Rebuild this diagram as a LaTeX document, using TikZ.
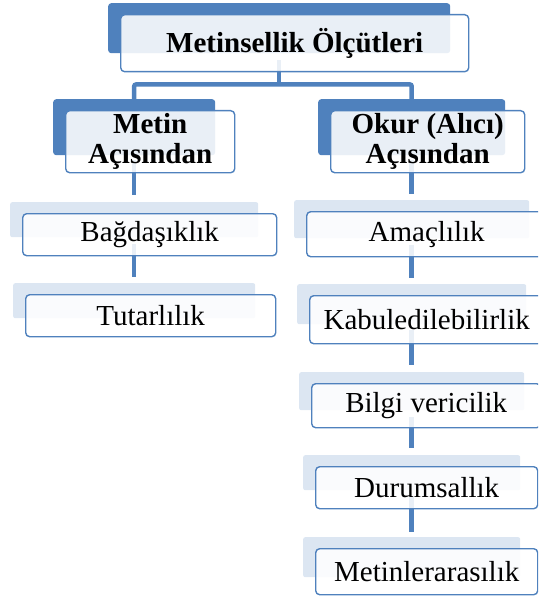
\documentclass[tikz,border=0pt]{standalone}
\usepackage{fontspec}
\setmainfont{Liberation Serif}
\usepackage{tikz}
\usetikzlibrary{positioning}
\definecolor{smartblue}{RGB}{79,129,189}
\definecolor{paleblue}{RGB}{220,230,242}
\tikzset{every picture/.style={/utils/exec={\fontsize{29}{30}\selectfont}}}

\begin{document}
\begin{tikzpicture}[x=1pt, y=-1pt]
  \tikzstyle{darkback} = [rectangle, rounded corners=3pt, fill=smartblue, inner sep=0pt, anchor=north west]
  \tikzstyle{paleback} = [rectangle, rounded corners=2pt, fill=paleblue, inner sep=0pt, anchor=north west]
  \tikzstyle{card} = [rectangle, rounded corners=4pt, draw=smartblue, line width=1.4pt, fill=white, fill opacity=0.88, text opacity=1, inner sep=0pt, align=center]
  \tikzstyle{headcard} = [card, font=\bfseries]

  \tikzstyle{stem} = [draw=smartblue, line width=4.5pt, rounded corners=2pt]

  \useasboundingbox (0,0) rectangle (538,599);
  \clip (0,0) rectangle (538,599);

  % plates behind the cards
  \node (rootb) [darkback, minimum width=342pt, minimum height=50pt] at (108,3) {};
  \node (metinb) [darkback, minimum width=162pt, minimum height=56pt] at (53,99) {};
  \node (okurb) [darkback, minimum width=187pt, minimum height=56pt] at (318,99) {};
  \node (bagb) [paleback, minimum width=248pt, minimum height=35pt] at (10,202) {};
  \node (tutb) [paleback, minimum width=242pt, minimum height=35pt] at (13,283) {};
  \node (amab) [paleback, minimum width=235pt, minimum height=38pt] at (294,200) {};
  \node (kabb) [paleback, minimum width=229pt, minimum height=40pt] at (297,284) {};
  \node (bilb) [paleback, minimum width=225pt, minimum height=38pt] at (299,372) {};
  \node (durb) [paleback, minimum width=217pt, minimum height=35pt] at (303,455) {};
  \node (metlb) [paleback, minimum width=217pt, minimum height=40pt] at (303,537) {};

  % down, across, down
  \draw [stem] ([yshift=-7pt]rootb.south) -- ([yshift=-31pt]rootb.south);
  \draw [stem] (metinb.north) |- ([yshift=-31pt]rootb.south) -| (okurb.north);
  \draw [stem] ([yshift=-5pt]metinb.south) -- ([yshift=7pt]bagb.north);
  \draw [stem] ([yshift=-7pt]bagb.south) -- ([yshift=6pt]tutb.north);
  \draw [stem] ([yshift=-5pt]okurb.south) -- ([yshift=6pt]amab.north);
  \draw [stem] ([yshift=-7pt]amab.south) -- ([yshift=6pt]kabb.north);
  \draw [stem] ([yshift=-6pt]kabb.south) -- ([yshift=7pt]bilb.north);
  \draw [stem] ([yshift=-7pt]bilb.south) -- ([yshift=7pt]durb.north);
  \draw [stem] ([yshift=-7pt]durb.south) -- ([yshift=5pt]metlb.north);

  \node (root) [headcard, minimum width=348pt, minimum height=57pt, below right=11pt and 12pt of rootb.north west] {Metinsellik Ölçütleri};
  \node (metin) [headcard, minimum width=169pt, minimum height=62pt, below right=11pt and 12pt of metinb.north west] {Metin\\Açısından};
  \node (okur) [headcard, minimum width=194pt, minimum height=62pt, below right=11pt and 12pt of okurb.north west] {Okur (Alıcı)\\Açısından};
  \node (bag) [card, minimum width=254pt, minimum height=42pt, below right=11pt and 12pt of bagb.north west] {Bağdaşıklık};
  \node (tut) [card, minimum width=250pt, minimum height=42pt, below right=11pt and 12pt of tutb.north west] {Tutarlılık};
  \node (ama) [card, minimum width=240pt, minimum height=45pt, below right=11pt and 12pt of amab.north west] {Amaçlılık};
  \node (kab) [card, minimum width=234pt, minimum height=48pt, below right=11pt and 12pt of kabb.north west] {Kabuledilebilirlik};
  \node (bil) [card, minimum width=229pt, minimum height=44pt, below right=11pt and 12pt of bilb.north west] {Bilgi vericilik};
  \node (dur) [card, minimum width=222pt, minimum height=42pt, below right=11pt and 12pt of durb.north west] {Durumsallık};
  \node (metl) [card, minimum width=222pt, minimum height=46pt, below right=11pt and 12pt of metlb.north west] {Metinlerarasılık};
\end{tikzpicture}
\end{document}
